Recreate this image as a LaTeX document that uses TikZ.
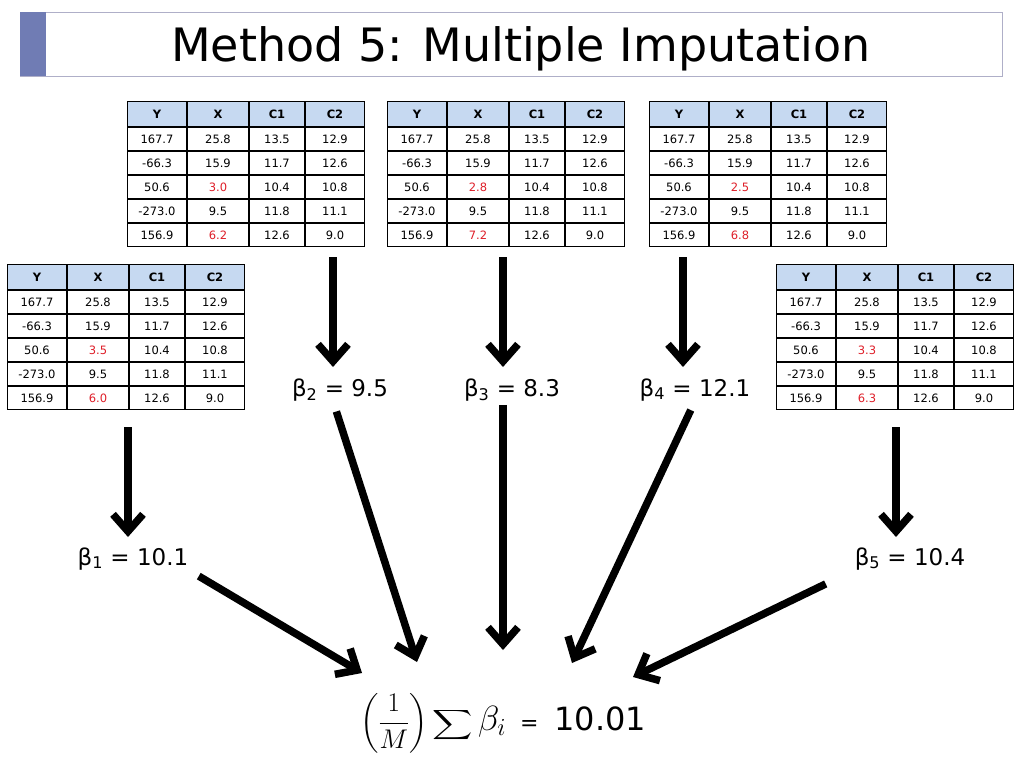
\RequirePackage{fix-cm}
\documentclass[tikz,border=0pt]{standalone}
\usepackage{amsmath}
\usepackage{fontspec}
\setmainfont{DejaVu Sans}
\usetikzlibrary{arrows.meta, calc, matrix}

\definecolor{hdblue}{RGB}{198,217,241}
\definecolor{impred}{RGB}{222,30,40}
\definecolor{barblue}{RGB}{112,124,180}
\definecolor{frameline}{RGB}{175,175,200}

% one imputed data set (name, x, y, two imputed X values)
\newcommand{\imptable}[5]{%
  \matrix (#1) [imptab, anchor=north west] at (#2,#3) {
    Y \& X \& C1 \& C2 \\
    167.7 \& 25.8 \& 13.5 \& 12.9 \\
    -66.3 \& 15.9 \& 11.7 \& 12.6 \\
    50.6 \& |[imp]| #4 \& 10.4 \& 10.8 \\
    -273.0 \& 9.5 \& 11.8 \& 11.1 \\
    156.9 \& |[imp]| #5 \& 12.6 \& 9.0 \\
  };%
}

\begin{document}
\begin{tikzpicture}[x=1pt, y=-1pt,
    imptab/.style={matrix of nodes, ampersand replacement=\&,
        column sep=0pt, row sep=0pt, inner sep=0pt, outer sep=0pt,
        nodes={draw, line width=1.1pt, outer sep=0pt, inner sep=0pt,
            minimum height=22.9pt, font=\fontsize{11.5}{13}\selectfont},
        row 1/.style={nodes={fill=hdblue, minimum height=24.9pt,
            font=\fontsize{11.5}{13}\selectfont\bfseries}},
        column 1/.style={nodes={minimum width=58.9pt}},
        column 2/.style={nodes={minimum width=60.9pt}},
        column 3/.style={nodes={minimum width=54.9pt}},
        column 4/.style={nodes={minimum width=58.9pt}}},
    imp/.style={text=impred},
    beta/.style={font=\fontsize{23}{26}\selectfont, inner sep=0pt, anchor=base},
    bigarrow/.style={line width=7.5pt, -{Straight Barb[length=17pt, width=30pt]}}]

    \useasboundingbox (0,0) rectangle (1024,768);

    % Title bar
    \draw[frameline, line width=0.8pt] (20,12) rectangle (1002,76);
    \fill[barblue] (20,12) rectangle (46,76);
    \node[font=\fontsize{46}{50}\selectfont, anchor=base] (title) at (521,62) {Method 5: Multiple Imputation};

    % The five imputed data sets
    \imptable{tabA}{7}{264}{3.5}{6.0}
    \imptable{tabB}{127}{101}{3.0}{6.2}
    \imptable{tabC}{387}{101}{2.8}{7.2}
    \imptable{tabD}{649}{101}{2.5}{6.8}
    \imptable{tabE}{776}{264}{3.3}{6.3}

    % Estimates from each data set
    \node[beta] (bA) at (133,565) {β\textsubscript{1} = 10.1};
    \node[beta] (bB) at (340,396) {β\textsubscript{2} = 9.5};
    \node[beta] (bC) at (512,396) {β\textsubscript{3} = 8.3};
    \node[beta] (bD) at (695,396) {β\textsubscript{4} = 12.1};
    \node[beta] (bE) at (910,565) {β\textsubscript{5} = 10.4};

    % Pooled estimate
    \node[anchor=base west, inner sep=0pt, font=\fontsize{32}{36}\selectfont] (sum) at (360,730)
        {{\fontsize{27}{30}\selectfont$\left(\dfrac{1}{M}\right)$}\hspace{5pt}%
         {\fontsize{20}{24}\selectfont\scalebox{1.35}[1]{$\displaystyle\sum$}}\hspace{5pt}%
         {\fontsize{35}{40}\selectfont$\beta_i$}\hspace{14pt}%
         {\fontsize{22}{26}\selectfont=}\hspace{16pt}10.01};

    % Arrows: data set -> estimate
    \coordinate (inA) at (128,537);
    \coordinate (inB) at (333,367);
    \coordinate (inC) at (503,367);
    \coordinate (inD) at (683,367);
    \coordinate (inE) at (896,537);
    \draw[bigarrow, shorten <=17pt] (tabA.south -| inA) -- (inA);
    \draw[bigarrow, shorten <=10pt] (tabB.south -| inB) -- (inB);
    \draw[bigarrow, shorten <=10pt] (tabC.south -| inC) -- (inC);
    \draw[bigarrow, shorten <=10pt] (tabD.south -| inD) -- (inD);
    \draw[bigarrow, shorten <=17pt] (tabE.south -| inE) -- (inE);

    % Arrows: estimate -> pooled estimate
    \coordinate (tA) at (362,673);
    \coordinate (tB) at (417,662);
    \coordinate (tC) at (503,650);
    \coordinate (tD) at (572,663);
    \coordinate (tE) at (633,677);
    \draw[bigarrow, shorten <=12pt] (bA.south east) -- (tA);
    \draw[bigarrow, shorten <=11pt] ([xshift=-7pt]bB.south) -- (tB);
    \draw[bigarrow, shorten <=4pt] ([xshift=-9pt]bC.south) -- (tC);
    \draw[bigarrow, shorten <=10pt] (bD.south) -- (tD);
    \draw[bigarrow, shorten <=32pt] (bE.south west) -- (tE);

\end{tikzpicture}
\end{document}
